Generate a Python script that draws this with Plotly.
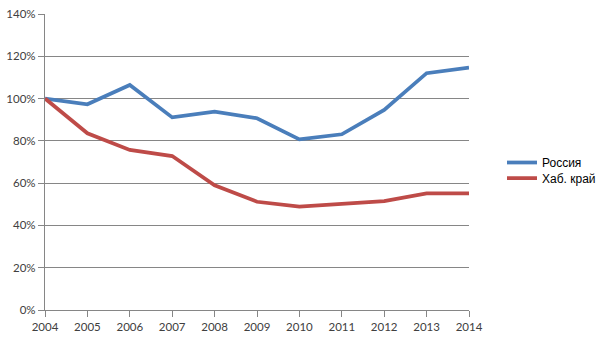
import plotly.graph_objects as go

years = [2004, 2005, 2006, 2007, 2008, 2009, 2010, 2011, 2012, 2013, 2014]
russia = [1.00, 0.973, 1.064, 0.911, 0.938, 0.907, 0.807, 0.831, 0.946, 1.120, 1.146]
khab = [1.00, 0.836, 0.757, 0.728, 0.590, 0.512, 0.489, 0.500, 0.515, 0.552, 0.552]
y_ticks = [0, 0.2, 0.4, 0.6, 0.8, 1.0, 1.2, 1.4]

grid_col = "#868686"
text_col = "#404040"
legend_font = dict(family="Liberation Sans, Arial", size=12, color="#000000")

fig = go.Figure()
fig.add_trace(go.Scatter(x=years, y=russia, mode="lines", name="Россия",
                         legend="legend",
                         line=dict(color="#4a7ebb", width=3.75)))
fig.add_trace(go.Scatter(x=years, y=khab, mode="lines", name="Хаб. край",
                         legend="legend2",
                         line=dict(color="#be4b48", width=3.75)))

# one legend box per series so the entries can sit close together
legend_common = dict(xref="container", yref="container", x=502 / 605,
                     xanchor="left", yanchor="middle", itemwidth=30,
                     font=legend_font, bgcolor="rgba(0,0,0,0)", borderwidth=0)

fig.update_layout(
    width=605, height=340,
    margin=dict(l=45, r=136, t=14, b=30),
    paper_bgcolor="white", plot_bgcolor="white",
    font=dict(family="Lato", size=11.5, color=text_col),
    showlegend=True,
    legend=dict(y=1 - 162.5 / 340, **legend_common),
    legend2=dict(y=1 - 178 / 340, **legend_common),
    xaxis=dict(range=[2004, 2014], tickmode="array", tickvals=years,
               ticktext=[str(y) for y in years], automargin=False,
               showgrid=False, zeroline=False,
               showline=True, linecolor=grid_col, linewidth=1.3,
               ticks="outside", ticklen=6, tickcolor=grid_col, tickwidth=1.3,
               tickfont=dict(size=11.5, color=text_col)),
    yaxis=dict(range=[0, 1.4], tickmode="array", tickvals=y_ticks,
               tickformat=".0%", automargin=False,
               showgrid=True, gridcolor=grid_col, gridwidth=1.3,
               zeroline=False,
               showline=True, linecolor=grid_col, linewidth=1.3,
               ticks="outside", ticklen=6, tickcolor=grid_col, tickwidth=1.3,
               tickfont=dict(size=11.5, color=text_col)),
)

fig.write_html("out.html")
